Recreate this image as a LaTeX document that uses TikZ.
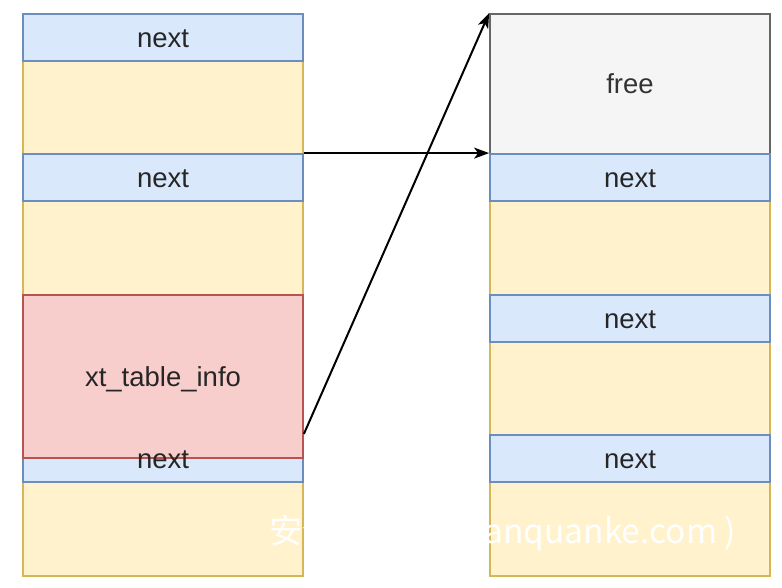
\documentclass[tikz,border=0pt]{standalone}
\usepackage{fontspec}
\setmainfont{Liberation Sans}
\newfontfamily\cjk{Noto Sans CJK SC}
\usetikzlibrary{arrows.meta,calc}
\definecolor{bluefill}{HTML}{DAE8FC}
\definecolor{bluedraw}{HTML}{6C8EBF}
\definecolor{yelfill}{HTML}{FFF2CC}
\definecolor{yeldraw}{HTML}{D6B656}
\definecolor{redfill}{HTML}{F8CECC}
\definecolor{reddraw}{HTML}{B85450}
\definecolor{grayfill}{HTML}{F5F5F5}
\definecolor{graydraw}{HTML}{666666}
\definecolor{graytext}{HTML}{333333}
\begin{document}
\begin{tikzpicture}[x=1pt,y=-1pt,
  cell/.style={rectangle,minimum width=280pt,inner sep=0pt,line width=1.8pt,
    font=\fontsize{27.5}{31}\selectfont,text=black!85,text height=25pt,text depth=5.8pt},
  nextbox/.style={cell,fill=bluefill,draw=bluedraw,minimum height=47pt},
  databox/.style={cell,fill=yelfill,draw=yeldraw},
  infobox/.style={cell,fill=redfill,draw=reddraw,minimum height=163pt},
  freebox/.style={cell,fill=grayfill,draw=graydraw,minimum height=140pt,text=graytext},
  lbl/.style={font=\fontsize{27.5}{31}\selectfont,text=black!85,inner sep=0pt,text height=25pt,text depth=5.8pt},
  ptr/.style={line width=2pt,-{Stealth[length=15pt,width=11pt,inset=4pt]}}]
\useasboundingbox (0,0) rectangle (782,587);
% left column
\node[databox,minimum height=93pt] (LY1) at (163,107.5) {};
\node[databox,minimum height=234pt] (LY2) at (163,318) {};
\node[databox,minimum height=94pt] (LY3) at (163,529) {};
\node[nextbox] (L1) at (163,37.5) {next};
\node[nextbox] (L2) at (163,177.5) {next};
\node[nextbox] (L3) at (163,458.5) {};
\node[infobox] (info) at (163,376.5) {xt\_table\_info};
\node[lbl] (L3t) at (L3.center) {next};
% right column
\node[databox,minimum height=94pt] (RY1) at (630,248) {};
\node[databox,minimum height=93pt] (RY2) at (630,388.5) {};
\node[databox,minimum height=94pt] (RY3) at (630,529) {};
\node[freebox] (free) at (630,84) {free};
\node[nextbox] (R1) at (630,177.5) {next};
\node[nextbox] (R2) at (630,318.5) {next};
\node[nextbox] (R3) at (630,458.5) {next};
% watermark
\node[anchor=west,inner sep=0pt,text=white,font=\cjk\fontsize{33.5}{38}\selectfont] (wm) at (269,533) {安全客 ( www.anquanke.com )};
% pointers
\coordinate (src) at ([yshift=25pt]info.south east);
\draw[ptr] (L2.north east) -- (R1.north west);
\draw[ptr] (src) -- (free.north west);
\end{tikzpicture}
\end{document}
